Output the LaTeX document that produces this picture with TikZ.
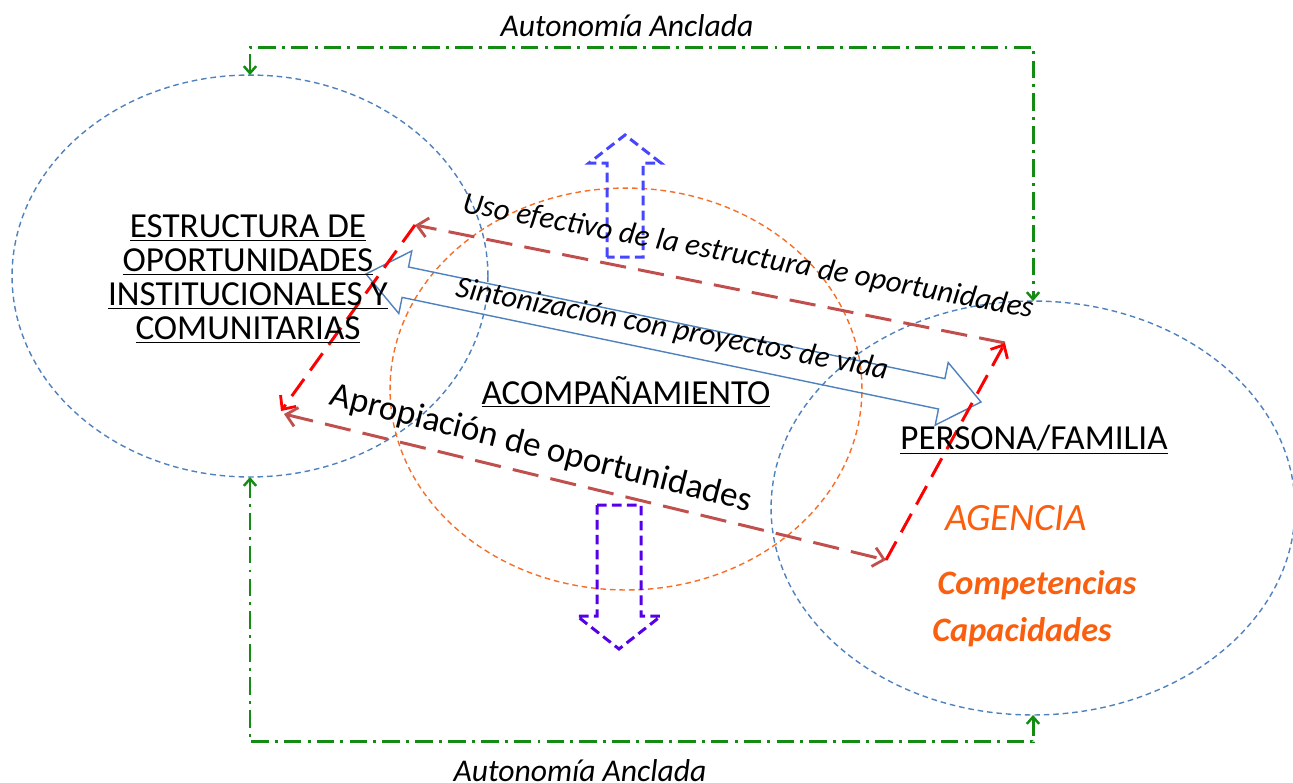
\documentclass[tikz,border=0pt]{standalone}
\usepackage{fontspec}
\setmainfont{Carlito}
\usetikzlibrary{arrows.meta,shapes.geometric,calc}
\definecolor{agreen}{RGB}{20,140,20}
\definecolor{ablue}{RGB}{79,129,189}
\definecolor{aorange}{RGB}{247,110,40}
\definecolor{dred}{RGB}{192,80,77}
\definecolor{bred}{RGB}{255,0,0}
\definecolor{upblue}{RGB}{70,70,255}
\definecolor{dnblue}{RGB}{85,0,230}
\definecolor{otext}{RGB}{250,95,15}
\tikzset{Rb/.tip={Straight Barb[length=6pt,width=11pt,line width=1.6pt]},
  Gb/.tip={Straight Barb[length=4pt,width=7pt,line width=1.4pt]}}
\begin{document}
\begin{tikzpicture}[x=0.02cm,y=-0.02cm,
  ell/.style={ellipse,draw,inner sep=0pt,outer sep=0pt,line width=0.8pt,dash pattern=on 3.2pt off 2.2pt},
  blueell/.style={ell,draw=ablue},
  orell/.style={ell,draw=aorange},
  greenline/.style={draw=agreen,line width=1.7pt,dash pattern=on 10pt off 3.5pt on 1.7pt off 3.5pt,{Gb}-{Gb}},
  redA/.style={draw=dred,line width=1.7pt,dash pattern=on 15pt off 7pt},
  redB/.style={draw=bred,line width=1.7pt,dash pattern=on 12pt off 6pt},
  blk/.style={line width=1.7pt,dash pattern=on 5.5pt off 3pt,line join=miter},
  head/.style={inner sep=0pt,align=center,font=\fontsize{20}{19.3}\selectfont},
  lab/.style={inner sep=0pt,font=\fontsize{17.5}{20}\selectfont\itshape},
  otxt/.style={inner sep=0pt,text=otext,font=\itshape},
  auto/.style={inner sep=0pt,font=\fontsize{18}{20}\selectfont\itshape}]
\useasboundingbox (0,0) rectangle (1293,782);

% circles
\node[blueell,minimum width=9.52cm,minimum height=8.04cm] (lc) at (250,276) {};
\node[blueell,minimum width=10.48cm,minimum height=8.28cm] (rc) at (1033,508) {};
\node[orell,minimum width=9.44cm,minimum height=8.04cm] (oc) at (626,389) {};

% green dash-dot connectors
\draw[greenline] (lc.north) -- ++(0,-28) -| (rc.north);
\draw[greenline] (lc.south) -- ++(0,265) -| (rc.south);
\node[auto] (auttop) at (627,26) {Autonomía Anclada};
\node[auto] (autbot) at (580,771) {Autonomía Anclada};

% up and down block arrows
\draw[blk,draw=upblue] (607,257) -- (607,163) -- (589,163) -- (625,135) -- (661,163) -- (643,163) -- (643,257) -- cycle;
\draw[blk,draw=dnblue] (597,505) -- (641,505) -- (641,616) -- (661,616) -- (619,649) -- (577,616) -- (597,616) -- cycle;

% blue double block arrow
\draw[draw=ablue,line width=0.8pt,line join=miter] (366,274) -- (411.8,250.9) -- (408.5,267) -- (944.9,378.6) -- (948.2,362.5) -- (981,402) -- (935.2,425.1) -- (938.5,409) -- (402.1,297.4) -- (398.8,313.5) -- cycle;

% red cycle
\coordinate (p1) at (415,225);
\coordinate (p2) at (281,411);
\coordinate (p3) at (886,560);
\coordinate (p4) at (1005,343);
\draw[redA,-{Rb}] (p4) -- (p1);
\draw[redB,-{Rb}] (p1) -- (p2);
\draw[redA,{Rb}-{Rb}] ($(p2)+(3,3)$) -- (p3);
\draw[redB,-{Rb}] (p3) -- (p4);

% labels
\node[lab,rotate=-10.5] (uso) at (748,257) {Uso efectivo de la estructura de oportunidades};
\node[lab,rotate=-10.8] (sin) at (672,330) {Sintonización con proyectos de vida};
\node[inner sep=0pt,rotate=-14.3,font=\fontsize{20}{22}\selectfont] (apr) at (541,449) {Apropiación de oportunidades};

% headings
\node[head] (estr) at (248,279) {\underline{ESTRUCTURA DE}\\\underline{OPORTUNIDADES}\\\underline{INSTITUCIONALES Y}\\\underline{COMUNITARIAS}};
\node[head] (acomp) at (626,392) {\underline{ACOMPAÑAMIENTO}};
\node[head] (pers) at (1034,440) {\underline{PERSONA/FAMILIA}};

\node[otxt,font=\fontsize{22}{24}\selectfont\itshape] (ag) at (1016,518) {AGENCIA};
\node[otxt,font=\fontsize{19.5}{22}\selectfont\bfseries\itshape] (comp) at (1037,585) {Competencias};
\node[otxt,font=\fontsize{19.5}{22}\selectfont\bfseries\itshape] (cap) at (1022,632) {Capacidades};
\end{tikzpicture}
\end{document}
